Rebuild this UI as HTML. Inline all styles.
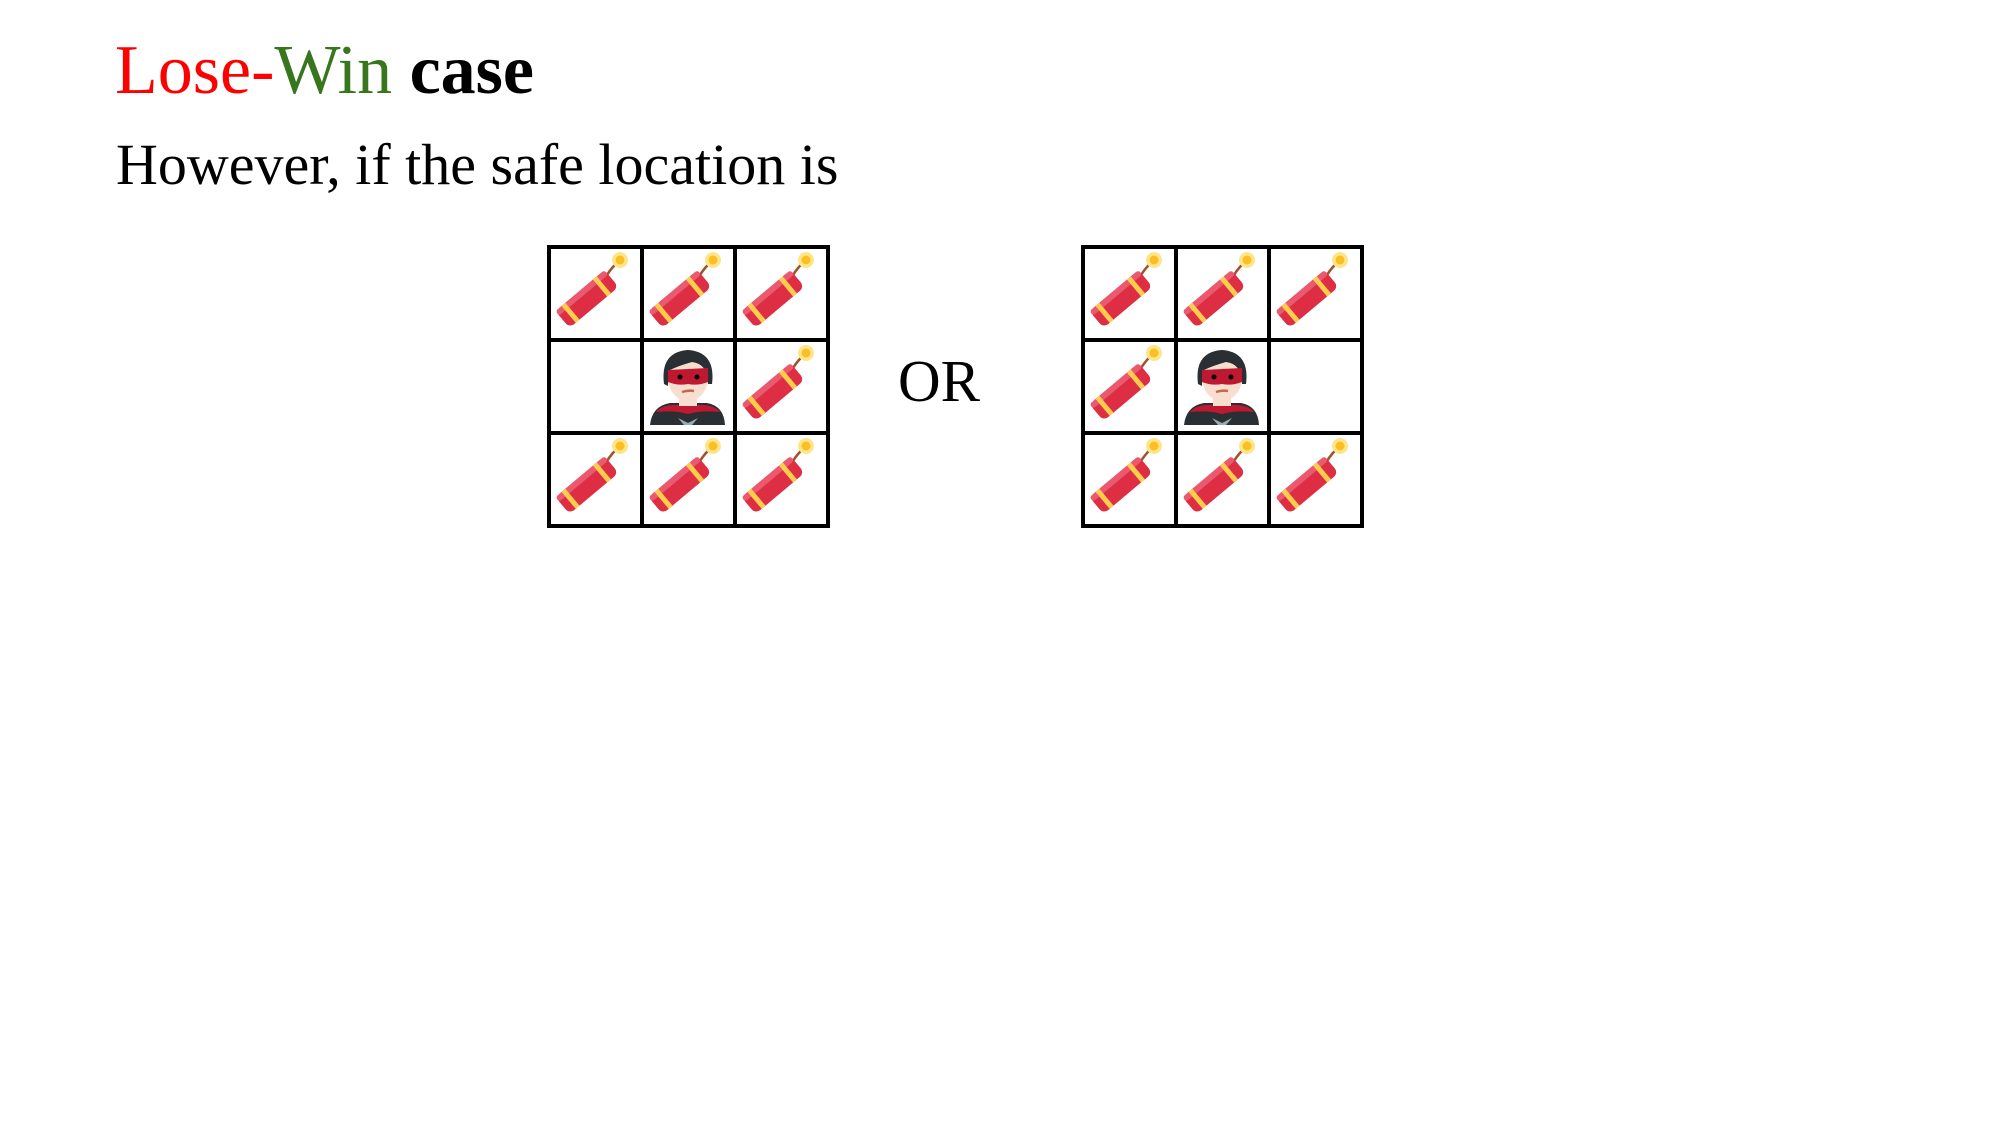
<!DOCTYPE html>
<html><head><meta charset="utf-8"><style>
html,body{margin:0;padding:0;background:#fff;}
body{width:2000px;height:1125px;position:relative;overflow:hidden;font-family:"Liberation Serif",serif;}
.t{position:absolute;white-space:nowrap;line-height:1;}
</style></head><body>
<div class="t" style="left:115px;top:36px;font-size:70px;letter-spacing:0px;">
<span style="color:#ff0000">Lose-</span><span style="color:#38761d">Win</span> <span style="color:#000;font-weight:bold">case</span></div>
<div class="t" style="left:116px;top:136px;font-size:58px;letter-spacing:0px;color:#000">However, if the safe location is</div>
<div class="t" style="left:898px;top:352px;font-size:59px;color:#000">OR</div>
<svg width="2000" height="1125" style="position:absolute;left:0;top:0">
<defs>
<symbol id="fc" viewBox="0 0 93 93">
<path d="M58 28 Q63 20 70 14" stroke="#a0522d" stroke-width="2.5" fill="none"/>
<circle cx="71" cy="13" r="8" fill="#fde68a"/>
<circle cx="71" cy="13" r="4.5" fill="#fbbf24"/>
<g transform="translate(38 52) rotate(-40)">
<rect x="-32" y="-11" width="64" height="22" rx="6" fill="#dd2e44"/>
<rect x="-32" y="-11" width="64" height="6" rx="3" fill="#ea596e"/>
<rect x="-24" y="-11" width="5" height="22" fill="#ffcc4d"/>
<rect x="17" y="-11" width="5" height="22" fill="#ffcc4d"/>
</g>
</symbol>
<symbol id="hero" viewBox="0 0 93 93">
<path d="M8 85 Q10 66 28 63 L65 63 Q82 66 83 85 Z" fill="#292f33"/>
<path d="M14 72 Q22 62 46 66 Q70 62 78 72 Q60 70 46 74 Q32 70 14 72Z" fill="#be1931"/>
<path d="M36 78 L46 83 L56 78 L50 85 L42 85Z" fill="#99aab5"/>
<rect x="37" y="52" width="18" height="14" fill="#f7dece"/>
<ellipse cx="46" cy="38" rx="20" ry="23" fill="#f7dece"/>
<path d="M22 44 Q18 12 46 10 Q74 12 70 44 L66 44 Q66 24 50 22 Q36 26 28 30 Q26 38 26 46Z" fill="#292f33"/>
<path d="M26 30 L66 28 L66 42 Q56 46 46 44 Q36 46 26 42Z" fill="#be1931"/>
<circle cx="38" cy="37" r="2.5" fill="#000"/><circle cx="55" cy="37" r="2.5" fill="#000"/>
<path d="M40 52 Q46 50 52 51" stroke="#c1694f" stroke-width="2.5" fill="none"/>
</symbol>
</defs>
<g transform="translate(549 247)">
<use href="#fc" x="0" y="0" width="93" height="93"/>
<use href="#fc" x="93" y="0" width="93" height="93"/>
<use href="#fc" x="186" y="0" width="93" height="93"/>
<use href="#hero" x="93" y="93" width="93" height="93"/>
<use href="#fc" x="186" y="93" width="93" height="93"/>
<use href="#fc" x="0" y="186" width="93" height="93"/>
<use href="#fc" x="93" y="186" width="93" height="93"/>
<use href="#fc" x="186" y="186" width="93" height="93"/>
<g stroke="#000" stroke-width="4" fill="none">
<rect x="0" y="0" width="279" height="279"/>
<line x1="93" y1="0" x2="93" y2="279"/><line x1="186" y1="0" x2="186" y2="279"/>
<line x1="0" y1="93" x2="279" y2="93"/><line x1="0" y1="186" x2="279" y2="186"/>
</g>
</g>
<g transform="translate(1083 247)">
<use href="#fc" x="0" y="0" width="93" height="93"/>
<use href="#fc" x="93" y="0" width="93" height="93"/>
<use href="#fc" x="186" y="0" width="93" height="93"/>
<use href="#fc" x="0" y="93" width="93" height="93"/>
<use href="#hero" x="93" y="93" width="93" height="93"/>
<use href="#fc" x="0" y="186" width="93" height="93"/>
<use href="#fc" x="93" y="186" width="93" height="93"/>
<use href="#fc" x="186" y="186" width="93" height="93"/>
<g stroke="#000" stroke-width="4" fill="none">
<rect x="0" y="0" width="279" height="279"/>
<line x1="93" y1="0" x2="93" y2="279"/><line x1="186" y1="0" x2="186" y2="279"/>
<line x1="0" y1="93" x2="279" y2="93"/><line x1="0" y1="186" x2="279" y2="186"/>
</g>
</g>
</svg>
</body></html>
